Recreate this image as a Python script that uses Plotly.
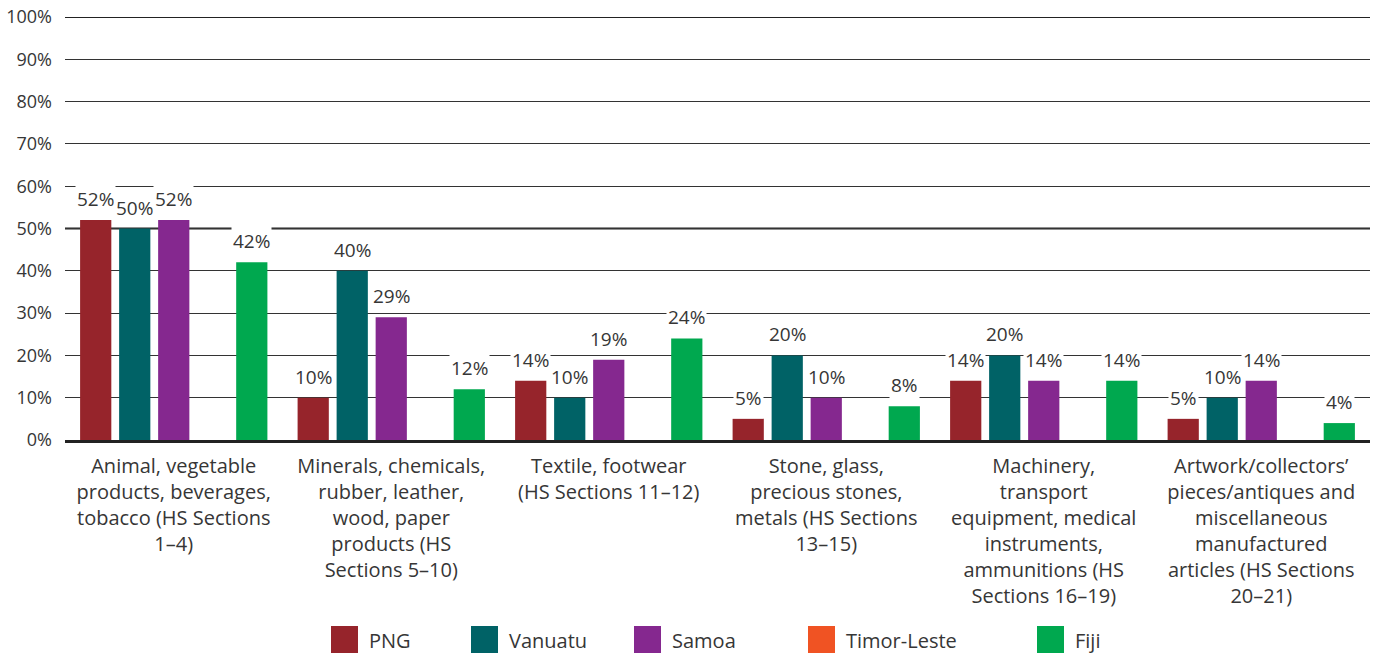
import plotly.graph_objects as go

# Product groups (HS sections) shown along the x axis
categories = [
    "Animal, vegetable<br>products, beverages,<br>tobacco (HS Sections<br>1–4)",
    "Minerals, chemicals,<br>rubber, leather,<br>wood, paper<br>products (HS<br>Sections 5–10)",
    "Textile, footwear<br>(HS Sections 11–12)",
    "Stone, glass,<br>precious stones,<br>metals (HS Sections<br>13–15)",
    "Machinery,<br>transport<br>equipment, medical<br>instruments,<br>ammunitions (HS<br>Sections 16–19)",
    "Artwork/collectors’<br>pieces/antiques and<br>miscellaneous<br>manufactured<br>articles (HS Sections<br>20–21)",
]

# Share of each country's exports by product group (%)
png = [52, 10, 14, 5, 14, 5]
vanuatu = [50, 40, 10, 20, 20, 10]
samoa = [52, 29, 19, 10, 14, 14]
timor_leste = [None, None, None, None, None, None]
fiji = [42, 12, 24, 8, 14, 4]

series = [
    ("PNG", png, "#96242B"),
    ("Vanuatu", vanuatu, "#006266"),
    ("Samoa", samoa, "#85288F"),
    ("Timor-Leste", timor_leste, "#F05323"),
    ("Fiji", fiji, "#00A84F"),
]

y_ticks = [0, 10, 20, 30, 40, 50, 60, 70, 80, 90, 100]
y_tick_labels = [f"{v}%" for v in y_ticks]

FONT = "Open Sans"
TEXT = "#363636"
BARGAP = 0.103
GROUPGAP = 0.2

W, H = 1374, 653
ML, MR, MT, MB = 65, 4, 17, 213
PW, PH = W - ML - MR, H - MT - MB

fig = go.Figure()
for name, vals, color in series:
    fig.add_trace(go.Bar(
        name=name,
        x=categories,
        y=[v if v is not None else 0 for v in vals],
        marker=dict(color=color, line=dict(width=0)),
        hoverinfo="skip",
        showlegend=False,
    ))

# Value labels with white backing, placed over each bar's slot in the group
n = len(series)
slot = (1 - BARGAP) / n
annotations = []
for k, (name, vals, color) in enumerate(series):
    for i, v in enumerate(vals):
        if v is None:
            continue
        annotations.append(dict(
            x=i + (k - (n - 1) / 2) * slot,
            y=v,
            xref="x", yref="y",
            text=f"{v}%",
            showarrow=False,
            yanchor="bottom",
            yshift=6,
            bgcolor="white",
            borderpad=1,
            font=dict(family=FONT, size=19, color=TEXT),
        ))

shapes = [
    dict(type="line", xref="paper", yref="y", x0=0, x1=1, y0=v, y1=v,
         line=dict(color="#222222", width=2), layer="below")
    for v in (50, 100)
]


# Legend drawn below the chart: square swatch followed by the series name
def px_x(px):
    return (px - ML) / PW


def px_y(py):
    return (H - MB - py) / PH


legend_left = [331, 471, 634, 808, 1037]
SW = 27
sw_top, sw_bottom = 626, 653
for (name, vals, color), left in zip(series, legend_left):
    shapes.append(dict(
        type="rect", xref="paper", yref="paper",
        x0=px_x(left), x1=px_x(left + SW),
        y0=px_y(sw_bottom), y1=px_y(sw_top),
        fillcolor=color, line=dict(width=0),
    ))
    annotations.append(dict(
        x=px_x(left + SW + 9), y=px_y((sw_top + sw_bottom) / 2 + 1),
        xref="paper", yref="paper",
        text=name, showarrow=False,
        xanchor="left", yanchor="middle",
        font=dict(family=FONT, size=20, color=TEXT),
    ))

fig.update_layout(
    width=W, height=H,
    margin=dict(l=ML, r=MR, t=MT, b=MB, autoexpand=False),
    paper_bgcolor="white", plot_bgcolor="white",
    barmode="group", bargap=BARGAP, bargroupgap=GROUPGAP,
    font=dict(family=FONT, size=17, color=TEXT),
    showlegend=False,
    annotations=annotations,
    shapes=shapes,
)

fig.update_xaxes(
    showgrid=False, showline=True, linecolor="#222222", linewidth=2.5,
    tickfont=dict(family=FONT, size=20, color=TEXT),
    ticks="", ticklabelstandoff=6, automargin=False,
)
fig.update_yaxes(
    range=[0, 100], tickvals=y_ticks, ticktext=y_tick_labels,
    showgrid=True, gridcolor="#333333", gridwidth=1,
    zeroline=False, showline=False,
    tickfont=dict(family=FONT, size=18, color=TEXT),
    ticklabelstandoff=12, automargin=False,
)

fig.write_html("out.html")
